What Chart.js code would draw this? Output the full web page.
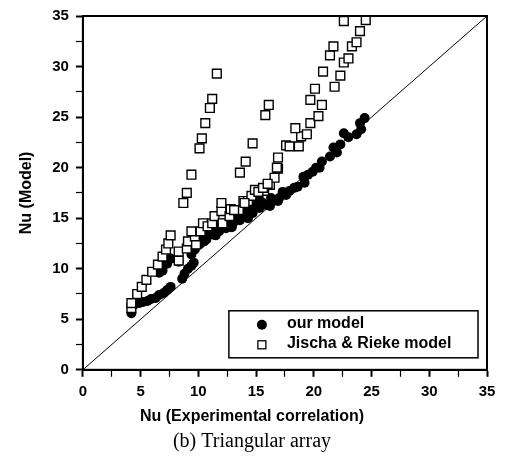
<!DOCTYPE html>
<html>
<head>
<meta charset="utf-8">
<script src="https://cdn.jsdelivr.net/npm/chart.js@4/dist/chart.umd.min.js"></script>
<style>
  html, body { margin: 0; padding: 0; background: #fff; }
  #wrap { width: 507px; height: 461px; }
</style>
</head>
<body>
<div id="wrap"><canvas id="nuChart" width="507" height="461"></canvas></div>
<script>
// Nu (experimental correlation) vs Nu (model), triangular array
const seriesNames = ['our model', 'Jischa & Rieke model'];

// our model: [Nu exp, Nu model]
const ourModel = [
  [4.2, 5.6], [4.4, 6.4], [4.9, 6.6], [5.2, 6.7], [5.6, 6.8], [5.9, 7.0], [6.3, 7.1],
  [6.6, 7.4], [7.0, 7.6], [7.3, 7.9], [7.6, 8.2], [8.6, 9.0], [8.8, 9.5], [9.1, 10.0],
  [9.4, 10.3], [9.6, 10.6], [6.6, 9.6], [6.9, 9.8], [7.3, 10.5], [7.6, 11.0],
  [8.3, 10.7], [9.4, 11.4], [9.7, 11.9], [10.1, 12.4], [10.5, 12.7], [10.7, 12.9],
  [11.2, 13.4], [11.8, 13.7], [12.4, 14.0], [13.0, 14.5], [13.6, 14.8], [14.1, 15.2],
  [14.7, 15.5], [15.3, 16.0], [15.9, 16.3], [16.5, 16.7], [17.0, 17.0], [17.6, 17.3],
  [10.1, 13.5], [11.0, 13.6], [11.5, 14.2], [12.1, 14.5], [13.0, 15.1], [13.6, 15.7],
  [14.4, 16.2], [15.3, 16.8], [16.2, 16.2], [16.9, 16.7], [17.9, 17.7],
  [11.5, 13.3], [12.7, 14.6], [12.9, 14.1], [13.3, 14.9], [14.0, 15.6], [14.3, 15.0],
  [14.8, 16.2], [15.6, 16.5], [16.3, 17.0], [17.3, 17.6], [10.4, 13.1],
  [18.3, 18.0], [18.6, 18.1], [19.2, 18.5], [19.1, 19.1], [19.5, 19.3], [19.9, 19.6],
  [20.5, 20.0], [20.2, 20.0], [20.7, 20.6], [21.4, 21.1], [22.0, 21.5], [21.7, 22.0],
  [22.3, 22.3], [23.0, 23.0], [22.6, 23.4], [23.7, 23.3], [24.1, 23.8], [24.0, 24.4],
  [24.4, 24.9]
];

// Jischa & Rieke model: [Nu exp, Nu model]
const jischaRieke = [
  [4.2, 6.1], [4.2, 6.6], [4.7, 7.5], [5.1, 8.2], [5.5, 8.9], [6.0, 9.7], [6.5, 10.4],
  [6.9, 11.2], [7.2, 11.9], [7.4, 12.5], [7.6, 13.3],
  [8.3, 10.8], [8.3, 11.7], [9.0, 12.0], [9.1, 12.7], [9.8, 12.4], [9.7, 13.2],
  [9.4, 13.7], [10.2, 13.7], [10.4, 14.5], [10.8, 14.2], [11.2, 14.5], [11.4, 15.2],
  [12.1, 14.5], [12.0, 15.7], [12.0, 16.5], [12.7, 15.2], [12.8, 15.9], [13.5, 15.8],
  [13.9, 16.7], [14.3, 16.7], [14.6, 17.2], [14.9, 17.8], [15.7, 17.7], [16.2, 18.3],
  [16.6, 19.0], [16.9, 19.9], [13.1, 15.8], [14.0, 16.5], [15.2, 17.6], [15.6, 18.0],
  [16.0, 18.4], [16.8, 20.0], [16.9, 21.0], [17.6, 22.2],
  [8.7, 16.5], [9.0, 17.5], [9.4, 19.3], [10.1, 21.9], [10.3, 22.9], [10.6, 24.4],
  [11.0, 25.9], [11.2, 26.8], [11.6, 29.3],
  [13.6, 19.5], [14.1, 20.6], [14.7, 22.4], [15.8, 25.2], [16.1, 26.2],
  [17.9, 22.1], [18.7, 22.1], [18.9, 23.1], [18.4, 23.9], [19.4, 23.3], [19.7, 24.4],
  [20.4, 25.1], [20.7, 26.2], [19.7, 26.7], [20.1, 27.8], [21.8, 28.0], [20.8, 29.5],
  [22.3, 29.1], [22.6, 30.4], [23.0, 30.8], [21.4, 31.1], [21.7, 32.0], [23.3, 32.0],
  [23.7, 32.4], [24.0, 33.5], [22.6, 34.5], [24.5, 34.6]
];

// y = x reference line
const diagonal = [[0, 0], [35, 35]];

const axisMin = 0;
const axisMax = 35;
const tickStep = 2.5;

const xTitle = 'Nu (Experimental correlation)';
const yTitle = 'Nu (Model)';
const caption = '(b) Triangular array';

const toXY = arr => arr.map(p => ({ x: p[0], y: p[1] }));

// frame round the plot + legend box inside the plot
const framePlugin = {
  id: 'frame',
  afterDatasetsDraw(chart) {
    const { ctx, chartArea: a } = chart;
    ctx.save();
    ctx.strokeStyle = '#000';
    ctx.lineWidth = 2;
    ctx.strokeRect(a.left, a.top, a.right - a.left, a.bottom - a.top);

    // legend
    const bx = a.left + 146, by = a.bottom - 59, bw = a.right - a.left - 155, bh = 47;
    ctx.fillStyle = '#fff';
    ctx.fillRect(bx, by, bw, bh);
    ctx.lineWidth = 1.5;
    ctx.strokeRect(bx, by, bw, bh);

    ctx.fillStyle = '#000';
    ctx.beginPath();
    ctx.arc(bx + 33, by + 14, 5, 0, Math.PI * 2);
    ctx.fill();

    ctx.lineWidth = 1.3;
    ctx.strokeRect(bx + 29, by + 30, 8, 8);

    ctx.font = 'bold 16px "Liberation Sans", Arial, sans-serif';
    ctx.textBaseline = 'middle';
    ctx.fillText(seriesNames[0], bx + 58, by + 13);
    ctx.fillText(seriesNames[1], bx + 58, by + 33);
    ctx.restore();
  }
};

const tickFont = { family: '"Liberation Sans", Arial, sans-serif', size: 15, weight: 'bold' };
const titleFont = { family: '"Liberation Sans", Arial, sans-serif', size: 16, weight: 'bold' };

const ctx = document.getElementById('nuChart').getContext('2d');
new Chart(ctx, {
  type: 'scatter',
  data: {
    datasets: [
      {
        label: seriesNames[0],
        data: toXY(ourModel),
        pointStyle: 'circle',
        pointRadius: 5,
        backgroundColor: '#000',
        borderColor: '#000',
        borderWidth: 0,
        order: 1
      },
      {
        label: seriesNames[1],
        data: toXY(jischaRieke),
        pointStyle: 'rect',
        pointRadius: 6.2,
        backgroundColor: '#fff',
        borderColor: '#000',
        borderWidth: 1.4,
        order: 0
      },
      {
        label: 'y = x',
        type: 'line',
        data: toXY(diagonal),
        borderColor: '#000',
        borderWidth: 1,
        pointRadius: 0,
        fill: false,
        order: 2
      }
    ]
  },
  options: {
    responsive: false,
    animation: false,
    layout: { padding: { top: 15, right: 20, left: 17, bottom: 7 } },
    scales: {
      x: {
        type: 'linear',
        min: axisMin,
        max: axisMax,
        grid: {
          drawOnChartArea: false,
          tickLength: 7,
          tickWidth: c => (c.tick && c.tick.value % 5 === 0 ? 2 : 1.2),
          tickColor: '#000'
        },
        border: { color: '#000', width: 2 },
        ticks: {
          stepSize: tickStep,
          color: '#000',
          font: tickFont,
          padding: 6,
          maxRotation: 0,
          autoSkip: false,
          callback: v => (v % 5 === 0 ? v : '')
        }
      },
      y: {
        type: 'linear',
        min: axisMin,
        max: axisMax,
        grid: {
          drawOnChartArea: false,
          tickLength: 7,
          tickWidth: c => (c.tick && c.tick.value % 5 === 0 ? 2 : 1.2),
          tickColor: '#000'
        },
        border: { color: '#000', width: 2 },
        ticks: {
          stepSize: tickStep,
          color: '#000',
          font: tickFont,
          padding: 7,
          autoSkip: false,
          callback: v => (v % 5 === 0 ? v : '')
        },
        title: { display: true, text: yTitle, color: '#000', font: titleFont, padding: { top: 0, bottom: 9 } }
      }
    },
    plugins: {
      legend: { display: false },
      tooltip: { enabled: false },
      // x axis title sits just under the tick labels, centred on the page like the original
      subtitle: {
        display: true,
        position: 'bottom',
        weight: 1500,
        text: xTitle,
        color: '#000',
        font: titleFont,
        padding: { top: 0, bottom: 0 }
      },
      title: {
        display: true,
        position: 'bottom',
        weight: 2000,
        text: caption,
        color: '#000',
        font: { family: '"Liberation Serif", "DejaVu Serif", serif', size: 20, weight: 'normal' },
        padding: { top: 4, bottom: 0 }
      }
    }
  },
  plugins: [framePlugin]
});
</script>
</body>
</html>
